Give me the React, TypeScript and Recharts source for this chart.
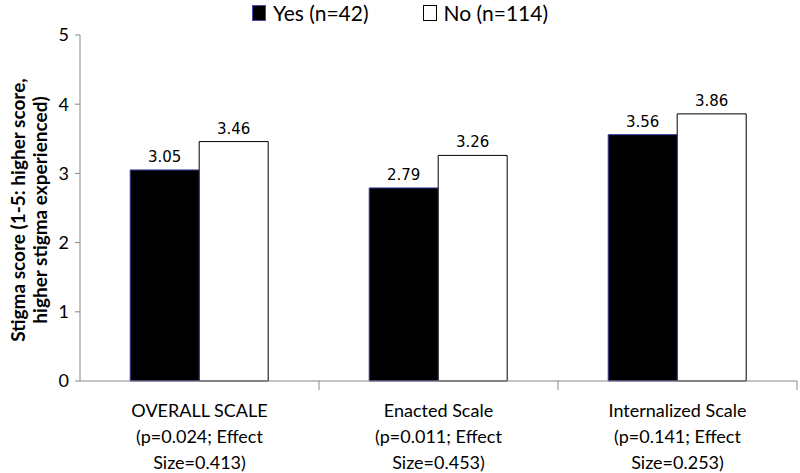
import { BarChart, Bar, XAxis, YAxis, LabelList } from "recharts";

const categories = ["OVERALL SCALE", "Enacted Scale", "Internalized Scale"];
const stats = ["(p=0.024; Effect", "(p=0.011; Effect", "(p=0.141; Effect"];
const sizes = ["Size=0.413)", "Size=0.453)", "Size=0.253)"];
const yesValues = [3.05, 2.79, 3.56];
const noValues = [3.46, 3.26, 3.86];
const yTicks = [0, 1, 2, 3, 4, 5];

const data = categories.map((name, i) => ({
  name,
  stat: stats[i],
  size: sizes[i],
  yes: yesValues[i],
  no: noValues[i],
}));

const W = 800;
const H = 473;
const LEFT = 80;
const RIGHT = 3;
const bandW = (W - LEFT - RIGHT) / categories.length;
const font = "Lato, 'Open Sans', sans-serif";

const CategoryTick = ({ x, y, payload, index }: any) => {
  const row = data[index] || data.find((d) => d.name === payload.value);
  return (
    <g>
      <line x1={x + bandW / 2} y1={y - 8} x2={x + bandW / 2} y2={y + 1} stroke="#888" />
      <text x={x} y={y + 28} textAnchor="middle" fontSize={18} fontFamily={font} fill="#000">
        <tspan x={x} dy={0}>{row.name}</tspan>
        <tspan x={x} dy={26}>{row.stat}</tspan>
        <tspan x={x} dy={26}>{row.size}</tspan>
      </text>
    </g>
  );
};

const Legend = () => (
  <div
    style={{
      position: "absolute",
      top: 1,
      left: 0,
      width: W,
      display: "flex",
      justifyContent: "center",
      gap: 54,
      fontFamily: font,
      fontSize: 21,
      lineHeight: "24px",
    }}
  >
    <span style={{ display: "flex", alignItems: "center", gap: 7 }}>
      <span style={{ width: 12, height: 14, background: "#000", border: "1px solid #4a4ab0" }} />
      Yes (n=42)
    </span>
    <span style={{ display: "flex", alignItems: "center", gap: 7 }}>
      <span style={{ width: 12, height: 14, background: "#fff", border: "1px solid #000" }} />
      No (n=114)
    </span>
  </div>
);

export default function App() {
  return (
    <div style={{ position: "absolute", top: 0, left: 0, width: W, height: H, background: "#fff" }}>
      <Legend />
      <div
        style={{
          position: "absolute",
          left: 5,
          top: 210,
          transform: "translate(-50%, -50%) rotate(-90deg)",
          transformOrigin: "center",
          marginLeft: 24,
          width: 340,
          textAlign: "center",
          fontFamily: font,
          fontWeight: "bold",
          fontSize: 19,
          lineHeight: "22px",
          whiteSpace: "nowrap",
        }}
      >
        Stigma score (1-5: higher score,
        <br />
        higher stigma experienced)
      </div>
      <BarChart
        width={W}
        height={H}
        data={data}
        margin={{ top: 35, right: RIGHT, bottom: 0, left: 0 }}
        barCategoryGap="21%"
        barGap={0}
        style={{ position: "absolute", top: 0, left: 0 }}
      >
        <XAxis
          dataKey="name"
          stroke="#888"
          tickLine={false}
          interval={0}
          height={92}
          tick={<CategoryTick />}
        />
        <YAxis
          width={LEFT}
          domain={[0, 5]}
          ticks={yTicks}
          stroke="#888"
          tickSize={5}
          tick={{ fill: "#000", fontSize: 18, fontFamily: font }}
          tickMargin={6}
        />
        <Bar dataKey="yes" fill="#000" stroke="#3a3aa0" strokeWidth={1} isAnimationActive={false}>
          <LabelList
            dataKey="yes"
            position="top"
            offset={8}
            style={{ fill: "#000", fontSize: 15, fontFamily: "'DejaVu Sans', sans-serif" }}
          />
        </Bar>
        <Bar dataKey="no" fill="#fff" stroke="#000" strokeWidth={1} isAnimationActive={false}>
          <LabelList
            dataKey="no"
            position="top"
            offset={8}
            style={{ fill: "#000", fontSize: 15, fontFamily: "'DejaVu Sans', sans-serif" }}
          />
        </Bar>
      </BarChart>
    </div>
  );
}
